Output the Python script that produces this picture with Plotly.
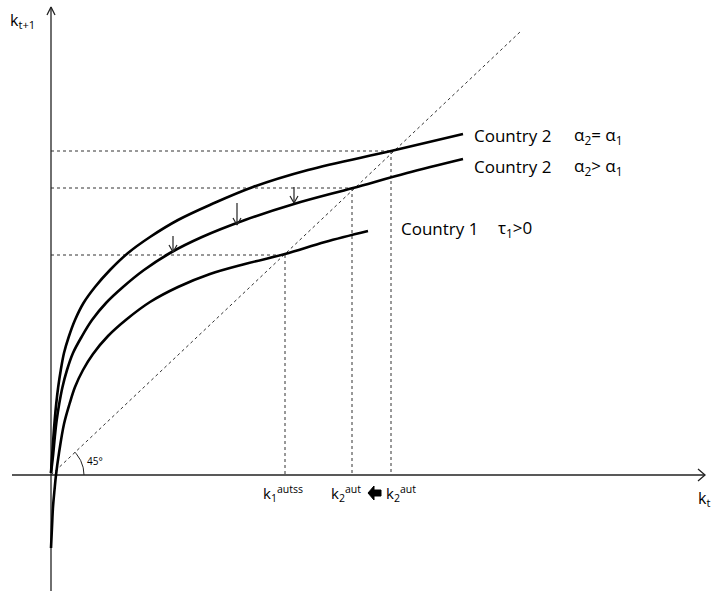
import numpy as np
import plotly.graph_objects as go

# ---- data (diagram units: k_t horizontal, k_{t+1} vertical) ----
top_kt  = [0, 0.6, 1.3, 2.4, 3.7, 5.2, 7.2, 9.8, 13, 17.7, 24, 32.5, 44, 59, 77, 99,
           127, 161, 202, 257, 340, 412]
top_kt1 = [2, 12, 22, 38, 55, 71, 88, 105, 122, 138, 155, 172, 188, 205, 222, 238,
           255, 271, 288, 305, 324, 341]

mid_kt  = [0, 1.2, 2.3, 3.8, 5.7, 8.2, 11.5, 16, 22, 30.5, 41, 55, 72, 93, 119, 151,
           194, 243, 302, 356, 412]
mid_kt1 = [2, 12, 22, 38, 55, 71, 88, 105, 122, 138, 155, 172, 188, 205, 222, 238,
           255, 271, 287, 302, 316]

low_kt  = [0, 1, 2, 3.5, 5, 8, 13, 18.5, 24, 32, 42, 57, 76, 99, 127, 159, 194, 234, 274, 317]
low_kt1 = [-73, -52, -32, -15, 0, 22, 51, 71, 88, 105, 121, 139, 156, 173, 188, 201,
           211, 221, 233, 244]

diag_kt  = [0, 469]
diag_kt1 = [0, 443]

ss_kt  = [234, 301, 340]
ss_kt1 = [220, 287, 324]

# small downward shift arrows (x, top, tip)
arr_x   = [122, 186, 243]
arr_top = [239, 272, 288]
arr_tip = [223, 250, 272]

BLACK = "#000000"
FONT = "Open Sans"

fig = go.Figure()

# dotted guide lines
gx, gy = [], []
for kx, ky in zip(ss_kt, ss_kt1):
    gx += [0, kx, None, kx, kx, None]
    gy += [ky, ky, None, ky, 0, None]
fig.add_trace(go.Scatter(x=gx, y=gy, mode="lines",
                         line=dict(color="#333333", width=1, dash="dot"),
                         hoverinfo="skip"))
# 45 degree line
fig.add_trace(go.Scatter(x=diag_kt, y=diag_kt1, mode="lines",
                         line=dict(color="#333333", width=1, dash="dot"),
                         hoverinfo="skip"))

# axes with arrowheads
ax_x = [-39, 654, None, 0, 0]
ax_y = [0, 0, None, -116, 468]
fig.add_trace(go.Scatter(x=ax_x, y=ax_y, mode="lines",
                         line=dict(color="#222222", width=1.3), hoverinfo="skip"))
fig.add_trace(go.Scatter(x=[647, 654, 647, None, -4, 0, 4],
                         y=[6, 0, -6, None, 460, 468, 460], mode="lines",
                         line=dict(color="#222222", width=1.3), hoverinfo="skip"))

# curves
for xs, ys in [(top_kt, top_kt1), (mid_kt, mid_kt1), (low_kt, low_kt1)]:
    fig.add_trace(go.Scatter(x=xs, y=ys, mode="lines", line_shape="spline",
                             line=dict(color=BLACK, width=2.6, smoothing=1.0),
                             hoverinfo="skip"))

# down arrows
dx, dy = [], []
for x, t, p in zip(arr_x, arr_top, arr_tip):
    dx += [x, x, None, x - 4, x, x + 4, None]
    dy += [t, p, None, p + 7, p, p + 7, None]
fig.add_trace(go.Scatter(x=dx, y=dy, mode="lines",
                         line=dict(color="#222222", width=1.2), hoverinfo="skip"))

# 45 degree arc
th = np.linspace(0, np.radians(44), 30)
fig.add_trace(go.Scatter(x=33 * np.cos(th), y=33 * np.sin(th), mode="lines",
                         line=dict(color="#222222", width=1), hoverinfo="skip"))

# fat left arrow
fig.add_trace(go.Scatter(x=[317, 323, 323, 330, 330, 323, 323, 317],
                         y=[-18, -11, -15, -15, -21, -21, -25, -18],
                         mode="lines", fill="toself", fillcolor=BLACK,
                         line=dict(color=BLACK, width=1), hoverinfo="skip"))

def txt(x, y, s, size=17, xanchor="left"):
    fig.add_annotation(x=x, y=y, xref="x", yref="y", text=s, showarrow=False,
                       xanchor=xanchor, yanchor="middle",
                       font=dict(family=FONT, size=size, color=BLACK))

txt(-43, 455, "k<sub>t+1</sub>", size=16)
txt(645, -23, "k<sub>t</sub>", size=16)
txt(34, 14, "45°", size=10)
txt(210, -18, "k<sub>1</sub><sup>autss</sup>", size=15)
txt(278, -18, "k<sub>2</sub><sup>aut</sup>", size=15)
txt(333, -18, "k<sub>2</sub><sup>aut</sup>", size=15)
txt(421, 340, "Country 2")
txt(521, 340, "α<sub>2</sub>= α<sub>1</sub>")
txt(421, 309, "Country 2")
txt(521, 309, "α<sub>2</sub>> α<sub>1</sub>")
txt(348, 247, "Country 1")
txt(445, 247, "τ<sub>1</sub>>0")

fig.update_layout(
    width=711, height=591, margin=dict(l=0, r=0, t=0, b=0),
    paper_bgcolor="white", plot_bgcolor="white", showlegend=False,
    xaxis=dict(range=[-51, 660], visible=False, fixedrange=True),
    yaxis=dict(range=[-116, 475], visible=False, fixedrange=True),
)
fig.write_html("out.html")
